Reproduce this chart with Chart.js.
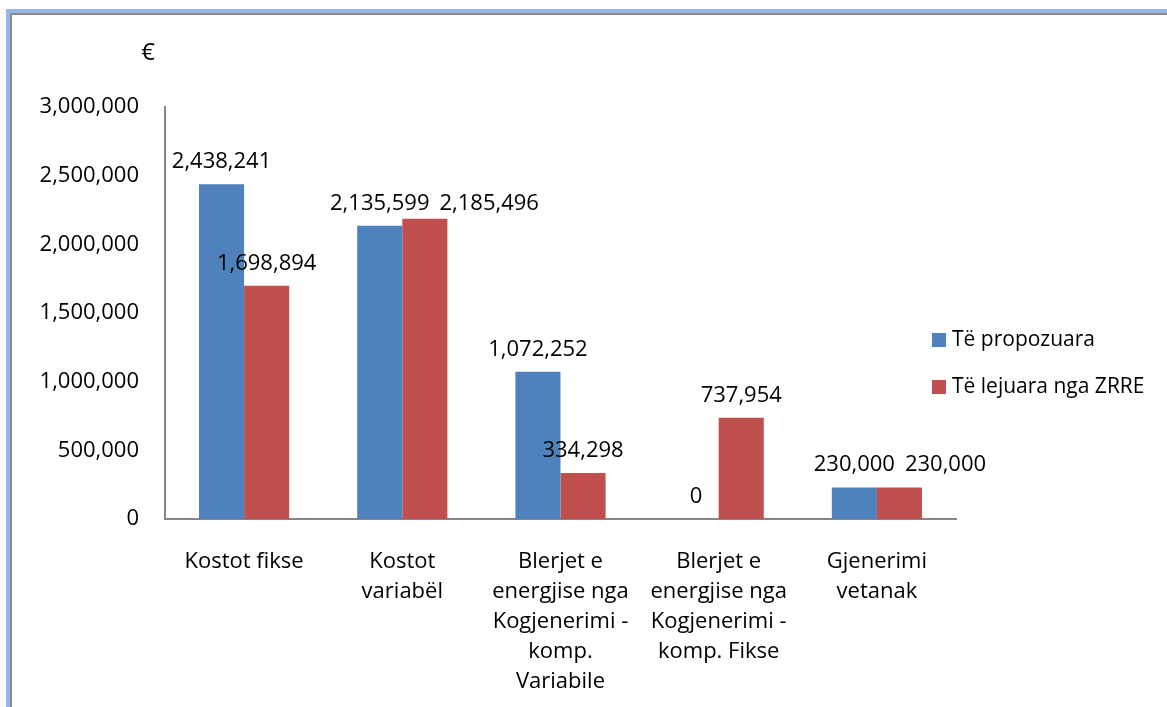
<!DOCTYPE html>
<html>
<head>
<meta charset="utf-8">
<script src="https://cdn.jsdelivr.net/npm/chart.js@4.4.1/dist/chart.umd.min.js"></script>
<style>
    html, body {margin: 0; padding: 0; background: #fff;}
    body {position: relative; width: 1167px; height: 707px; overflow: hidden;}
    /* frame of the original chart object */
    #frame {position: absolute; left: 6px; top: 9px; width: 1200px; height: 720px;
        border-left: 4px solid #98b5e3; border-top: 4px solid #98b5e3;}
    #frameInner {width: 100%; height: 100%; border-left: 2px solid #8c8c8c; border-top: 2px solid #8c8c8c;}
    #graph {position: absolute; left: 0; top: 0;}
</style>
</head>
<body>
<div id="frame"><div id="frameInner"></div></div>
<canvas id="graph" width="1167" height="707"></canvas>
<script>
const blue =  'rgb(79, 129, 189)'
const red =   'rgb(192, 80, 77)'
const black = 'rgb(0, 0, 0)'
const grey =  'rgb(134, 134, 134)'
const fontFamily = '"Open Sans", "DejaVu Sans", sans-serif'

// categories (multi-line as in the original)
const categories = [
    'Kostot fikse',
    ['Kostot', 'variabël'],
    ['Blerjet e', 'energjise nga', 'Kogjenerimi -', 'komp.', 'Variabile'],
    ['Blerjet e', 'energjise nga', 'Kogjenerimi -', 'komp. Fikse'],
    ['Gjenerimi', 'vetanak']
]
const seriesNames = ['Të propozuara', 'Të lejuara nga ZRRE']
const proposed = [2438241, 2135599, 1072252, 0, 230000]
const allowed =  [1698894, 2185496, 334298, 737954, 230000]
// y axis range
const yMin = 0
const yMax = 3000000
const yStep = 500000
const unitLabel = '€'

function fmt(v) {
    return Number(v).toLocaleString('en-US')
}

//Values above each bar, the second one moved aside when both would collide
const valueLabels = {
    id: 'valueLabels',
    afterDatasetsDraw(chart) {
        const ctx = chart.ctx
        ctx.save()
        ctx.font = '22px ' + fontFamily
        ctx.fillStyle = black
        ctx.textAlign = 'center'
        ctx.textBaseline = 'alphabetic'
        const metaA = chart.getDatasetMeta(0).data
        const metaB = chart.getDatasetMeta(1).data
        const dsA = chart.data.datasets[0].data
        const dsB = chart.data.datasets[1].data
        for (let j = 0; j < dsA.length; j++) {
            const tA = fmt(dsA[j]), tB = fmt(dsB[j])
            const wA = ctx.measureText(tA).width, wB = ctx.measureText(tB).width
            const xA = metaA[j].x, yA = metaA[j].y - 16
            let xB = metaB[j].x, yB = metaB[j].y - 16
            const overlapX = (xB - wB / 2) < (xA + wA / 2 + 4)
            const overlapY = Math.abs(yA - yB) < 22
            if (overlapX && overlapY) {
                xB = xA + wA / 2 + 10 + wB / 2
                yB = yA
            }
            ctx.fillText(tA, xA, yA)
            ctx.fillText(tB, xB, yB)
        }
        ctx.restore()
    }
}

//Unit sign above the y axis
const unitSign = {
    id: 'unitSign',
    afterDraw(chart) {
        const ctx = chart.ctx
        const area = chart.chartArea
        ctx.save()
        ctx.font = '24px ' + fontFamily
        ctx.fillStyle = black
        ctx.textAlign = 'center'
        ctx.textBaseline = 'middle'
        ctx.fillText(unitLabel, area.left - 17, area.top - 54)
        ctx.restore()
    }
}

//Legend sits partly over the plot area, like the original
const sideLegend = {
    id: 'sideLegend',
    afterDraw(chart) {
        const ctx = chart.ctx
        const area = chart.chartArea
        ctx.save()
        ctx.font = '21px ' + fontFamily
        ctx.textAlign = 'left'
        ctx.textBaseline = 'middle'
        chart.data.datasets.forEach((ds, i) => {
            const cy = area.top + 233 + i * 47
            const bx = area.right - 24
            ctx.fillStyle = ds.backgroundColor
            ctx.fillRect(bx, cy - 7, 14, 14)
            ctx.fillStyle = black
            ctx.fillText(ds.label, bx + 20, cy)
        })
        ctx.restore()
    }
}

const ctx = document.getElementById('graph')
Chart.defaults.font.family = fontFamily
Chart.defaults.color = black

new Chart(ctx, {
    type: 'bar',
    data: {
        labels: categories,
        datasets: [
            {
                label: seriesNames[0],
                data: proposed,
                backgroundColor: blue,
                borderWidth: 0,
            },
            {
                label: seriesNames[1],
                data: allowed,
                backgroundColor: red,
                borderWidth: 0,
            }
        ]
    },
    options: {
        responsive: false,
        animation: false,
        layout: {
            padding: {left: 0, top: 107, right: 211, bottom: 0}
        },
        datasets: {
            bar: {
                categoryPercentage: 0.57,
                barPercentage: 1.0,
            }
        },
        plugins: {
            legend: {display: false},
            tooltip: {enabled: false},
            title: {display: false},
        },
        scales: {
            x: {
                grid: {display: false, drawTicks: false},
                border: {display: true, color: grey, width: 2},
                ticks: {
                    autoSkip: false,
                    maxRotation: 0,
                    padding: 28,
                    color: black,
                    font: {size: 22, lineHeight: 30 / 22},
                },
                afterFit: (scale) => { scale.height = 188 }
            },
            y: {
                min: yMin,
                max: yMax,
                grid: {display: false, drawTicks: false},
                border: {display: true, color: grey, width: 2},
                ticks: {
                    stepSize: yStep,
                    padding: 26,
                    color: black,
                    font: {size: 22},
                    callback: function(value) {
                        return fmt(value)
                    }
                },
                afterFit: (scale) => { scale.width = 165 }
            }
        }
    },
    plugins: [valueLabels, unitSign, sideLegend]
})
</script>
</body>
</html>
